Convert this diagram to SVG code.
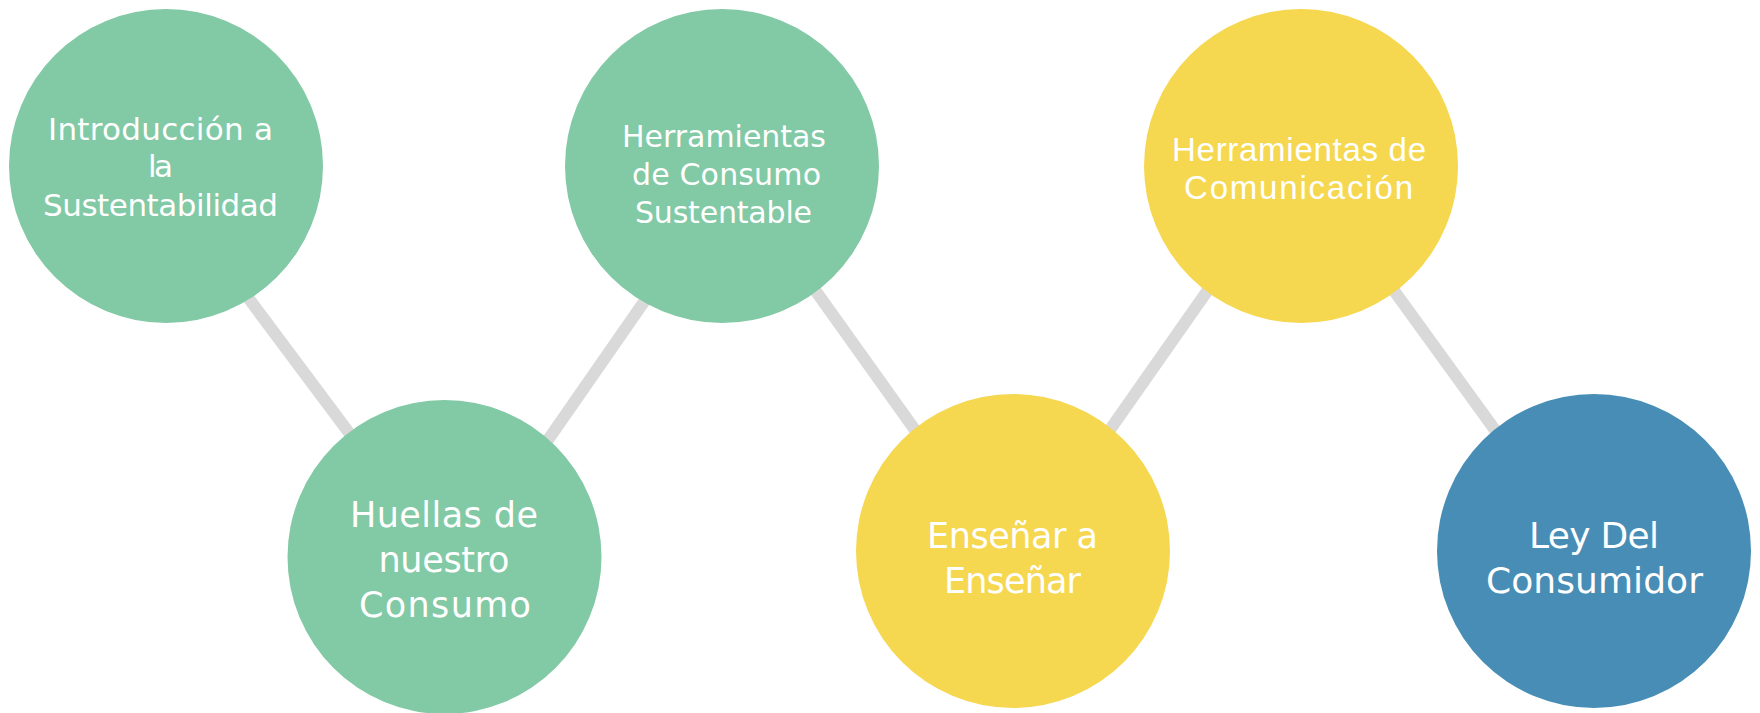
<svg xmlns="http://www.w3.org/2000/svg" width="1760" height="713" viewBox="0 0 1760 713">
<style>
.conn{stroke:#D9D9D9;stroke-width:12;fill:none}
.green{fill:#82C9A5}
.yellow{fill:#F6D750}
.blue{fill:#478DB6}
.lbl{fill:#FFFFFF;font-family:"DejaVu Sans","Liberation Sans",sans-serif;text-anchor:middle}
.lbl3{fill:#FFFFFF;font-family:"Liberation Sans",Arial,sans-serif;text-anchor:middle}
</style>
<rect width="1760" height="713" fill="#FFFFFF"/>
<g id="connectors">
<line class="conn" x1="190" y1="220" x2="400" y2="501"/>
<line class="conn" x1="680" y1="250" x2="500" y2="509"/>
<line class="conn" x1="780" y1="241" x2="960" y2="493"/>
<line class="conn" x1="1250" y1="230" x2="1060" y2="501"/>
<line class="conn" x1="1350" y1="230" x2="1540" y2="492"/>
</g>
<g id="node1">
<circle class="green" cx="166" cy="166" r="157"/>
<text class="lbl" font-size="31"><tspan x="160.5" y="140" textLength="225">Introducción a</tspan><tspan x="160.5" y="177" textLength="25">la</tspan><tspan x="160.5" y="216" textLength="235">Sustentabilidad</tspan></text>
</g>
<g id="node2">
<circle class="green" cx="444.5" cy="557" r="157"/>
<text class="lbl" font-size="35"><tspan x="444" y="527" textLength="188">Huellas de</tspan><tspan x="444" y="572" textLength="131">nuestro</tspan><tspan x="445" y="617" textLength="172">Consumo</tspan></text>
</g>
<g id="node3">
<circle class="green" cx="722" cy="166" r="157"/>
<text class="lbl" font-size="30"><tspan x="724" y="147" textLength="204">Herramientas</tspan><tspan x="726.5" y="185" textLength="189">de Consumo</tspan><tspan x="723.5" y="223" textLength="177">Sustentable</tspan></text>
</g>
<g id="node4">
<circle class="yellow" cx="1013" cy="551" r="157"/>
<text class="lbl" font-size="35"><tspan x="1012.5" y="548" textLength="171">Enseñar a</tspan><tspan x="1012.5" y="593" textLength="137">Enseñar</tspan></text>
</g>
<g id="node5">
<circle class="yellow" cx="1301" cy="166" r="157"/>
<text class="lbl3" font-size="33"><tspan x="1299" y="161" textLength="254">Herramientas de</tspan><tspan x="1298.5" y="199" textLength="229">Comunicación</tspan></text>
</g>
<g id="node6">
<circle class="blue" cx="1594" cy="551" r="157"/>
<text class="lbl" font-size="36"><tspan x="1594" y="548" textLength="130">Ley Del</tspan><tspan x="1594.5" y="593" textLength="217">Consumidor</tspan></text>
</g>
</svg>
